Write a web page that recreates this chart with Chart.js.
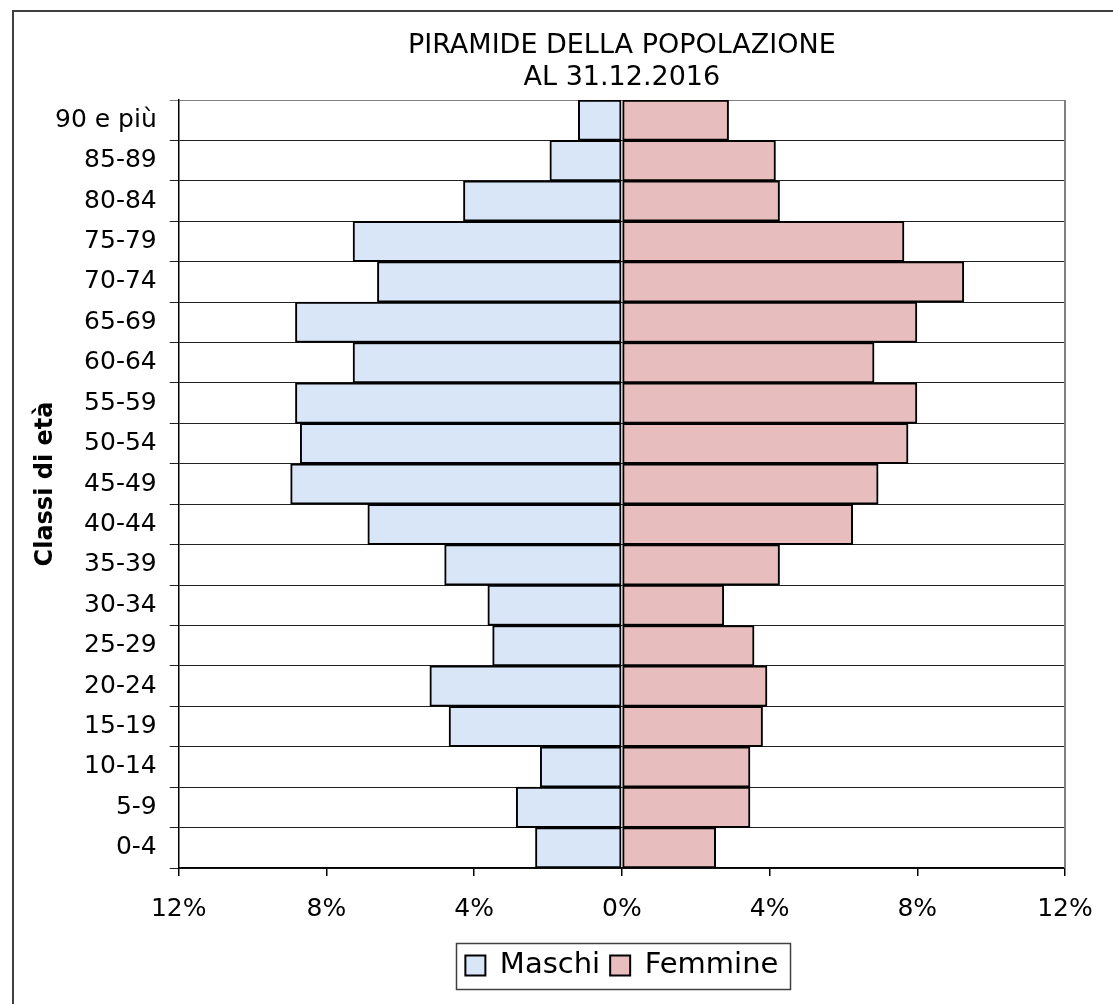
<!DOCTYPE html>
<html>
<head>
<meta charset="utf-8">
<script src="https://cdn.jsdelivr.net/npm/chart.js@4.4.1/dist/chart.umd.min.js"></script>
<style>
  html, body { margin: 0; padding: 0; background: #ffffff; }
  #wrap { position: relative; width: 1113px; height: 1004px; }
</style>
</head>
<body>
<div id="wrap"><canvas id="c" width="1113" height="1004"></canvas></div>
<script>
// ---- data (top to bottom) ----
const ageGroups = ['90 e più', '85-89', '80-84', '75-79', '70-74', '65-69', '60-64', '55-59', '50-54', '45-49', '40-44', '35-39', '30-34', '25-29', '20-24', '15-19', '10-14', '5-9', '0-4'];
const maschi  = [1.18, 1.95, 4.29, 7.28, 6.62, 8.84, 7.28, 8.84, 8.71, 8.97, 6.88, 4.80, 3.63, 3.50, 5.20, 4.68, 2.21, 2.86, 2.34];
const femmine = [2.89, 4.16, 4.27, 7.64, 9.26, 7.99, 6.83, 7.99, 7.75, 6.94, 6.25, 4.27, 2.76, 3.58, 3.93, 3.81, 3.47, 3.47, 2.54];
const seriesNames = ['Maschi', 'Femmine'];
const titleLines = ['PIRAMIDE DELLA POPOLAZIONE', 'AL 31.12.2016'];
const yAxisTitle = 'Classi di età';
const xMin = -12, xMax = 12, xStep = 4;

const FONT = "'DejaVu Sans', Verdana, sans-serif";

const framePlugin = {
  id: 'frame',
  beforeDraw(chart) {
    const ctx = chart.ctx;
    ctx.save();
    ctx.fillStyle = '#ffffff';
    ctx.fillRect(0, 0, chart.width, chart.height);
    ctx.strokeStyle = '#404040';
    ctx.lineWidth = 2;
    ctx.strokeRect(13, 11, chart.width + 50, chart.height + 50);
    ctx.restore();
  },
  afterDraw(chart) {
    const ctx = chart.ctx;
    const a = chart.chartArea;
    ctx.save();
    ctx.strokeStyle = '#808080';
    ctx.lineWidth = 2;
    ctx.beginPath();
    ctx.moveTo(a.right, a.top);
    ctx.lineTo(a.right, a.bottom);
    ctx.stroke();
    const hb = chart.legend.legendHitBoxes;
    if (hb && hb.length) {
      let l = Infinity, r = -Infinity, t = Infinity, b = -Infinity;
      hb.forEach(h => { l = Math.min(l, h.left); r = Math.max(r, h.left + h.width); t = Math.min(t, h.top); b = Math.max(b, h.top + h.height); });
      const cy = (t + b) / 2;
      ctx.strokeStyle = '#404040';
      ctx.lineWidth = 1.5;
      ctx.strokeRect(Math.round(l - 9) + 0.5, Math.round(cy - 23) + 0.5, Math.round(r - l + 21), 46);
    }
    ctx.restore();
  }
};

new Chart(document.getElementById('c'), {
  type: 'bar',
  data: {
    labels: ageGroups,
    datasets: [
      {
        label: seriesNames[0],
        data: maschi.map(v => -v),
        backgroundColor: '#d8e6f7',
        borderColor: '#000000',
        borderWidth: 2,
        borderSkipped: false,
        barPercentage: 1,
        categoryPercentage: 1
      },
      {
        label: seriesNames[1],
        data: femmine,
        backgroundColor: '#e8bdbe',
        borderColor: '#000000',
        borderWidth: 2,
        borderSkipped: false,
        barPercentage: 1,
        categoryPercentage: 1
      }
    ]
  },
  options: {
    indexAxis: 'y',
    responsive: false,
    animation: false,
    devicePixelRatio: 1,
    layout: { padding: { left: 14, right: 48, top: 0, bottom: 14 } },
    scales: {
      x: {
        stacked: true,
        min: xMin,
        max: xMax,
        afterFit(scale) { scale.height -= 1; },
        ticks: {
          stepSize: xStep,
          padding: 18,
          color: '#000',
          font: { family: FONT, size: 25 },
          callback: v => Math.abs(v) + '%'
        },
        grid: {
          drawOnChartArea: false,
          drawTicks: true,
          tickLength: 8,
          color: '#000',
          lineWidth: 1.5
        },
        border: { display: true, color: '#000', width: 1.5 }
      },
      y: {
        stacked: true,
        ticks: {
          padding: 13,
          color: '#000',
          font: { family: FONT, size: 25 },
          autoSkip: false
        },
        grid: {
          offset: true,
          drawTicks: true,
          tickLength: 9,
          color: ctx => (ctx.index === 0 ? '#808080' : '#202020'),
          lineWidth: 1
        },
        border: { display: true, color: '#000', width: 1.5 },
        title: {
          display: true,
          text: yAxisTitle,
          color: '#000',
          font: { family: FONT, size: 24, weight: 'bold', lineHeight: 1.0 },
          padding: { top: 20, bottom: -16 }
        }
      }
    },
    plugins: {
      tooltip: { enabled: false },
      title: {
        display: true,
        fullSize: false,
        text: titleLines,
        color: '#000',
        font: { family: FONT, size: 27, weight: 'normal', lineHeight: 32 / 27 },
        padding: { top: 30, bottom: 6 }
      },
      legend: {
        display: true,
        position: 'bottom',
        fullSize: false,
        labels: {
          color: '#000',
          font: { family: FONT, size: 29 },
          boxWidth: 20,
          boxHeight: 20,
          padding: 10
        }
      }
    }
  },
  plugins: [framePlugin]
});
</script>
</body>
</html>
